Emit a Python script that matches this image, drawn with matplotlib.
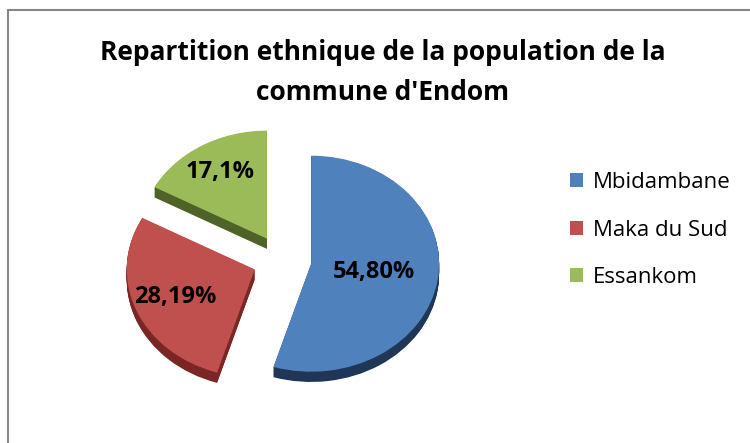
import matplotlib
matplotlib.use("Agg")
import matplotlib.pyplot as plt
import numpy as np
from matplotlib.patches import Rectangle

# data
groups = ["Mbidambane", "Maka du Sud", "Essankom"]
shares = [54.80, 28.19, 17.1]
share_labels = ["54,80%", "28,19%", "17,1%"]

TOP = ["#4F81BD", "#C0504D", "#9BBB59"]
SIDE = ["#1F3656", "#7A2624", "#4F6228"]
EXPLODE = [0.23, 0.23, 0.23]
LABEL_R = [0.50, 0.67, 0.72]
DEPTH = 0.095

plt.rcParams["font.family"] = ["Open Sans", "DejaVu Sans"]

fig = plt.figure(figsize=(7.5, 4.43), dpi=100)
ax = fig.add_axes([0, 0, 1, 1])

# extruded side: stack of darker pies shifted downward
for d in np.linspace(DEPTH, 0.005, 14):
    ax.pie(shares, colors=SIDE, explode=EXPLODE, startangle=90, counterclock=False,
           center=(0, -d), radius=1, wedgeprops=dict(linewidth=0))

wedges, _ = ax.pie(shares, colors=TOP, explode=EXPLODE, startangle=90, counterclock=False,
                   center=(0, 0), radius=1, wedgeprops=dict(linewidth=0))

for w, txt, r in zip(wedges, share_labels, LABEL_R):
    th = np.deg2rad(0.5 * (w.theta1 + w.theta2))
    cx, cy = w.center
    ax.text(cx + r * np.cos(th), cy + r * np.sin(th), txt, ha="center", va="center",
            fontsize=17, fontweight="bold", color="black")

# pixel-like mapping: pie centre at (282, 260) px, rx=128, ry=108
ax.set_aspect("auto")
ax.set_xlim(-282 / 128, (750 - 282) / 128)
ax.set_ylim(-183 / 108, (443 - 183) / 108)
ax.axis("off")

fig.text(0.51, 1 - 52 / 443, "Repartition ethnique de la population de la",
         ha="center", va="center", fontsize=19, fontweight="bold")
fig.text(0.51, 1 - 93 / 443, "commune d'Endom",
         ha="center", va="center", fontsize=19, fontweight="bold")

fig.legend(wedges, groups, loc="center left", bbox_to_anchor=(570 / 750, 1 - 230 / 443),
           frameon=False, fontsize=16, labelspacing=1.2, handlelength=0.6,
           handleheight=0.6, handletextpad=0.45, borderpad=0, borderaxespad=0)

fig.add_artist(Rectangle((8 / 750, -0.1), 1.2, 1.1 - 10 / 443, transform=fig.transFigure,
                         fill=False, edgecolor="#868686", linewidth=1.5))

fig.savefig("out.png", dpi=100)
